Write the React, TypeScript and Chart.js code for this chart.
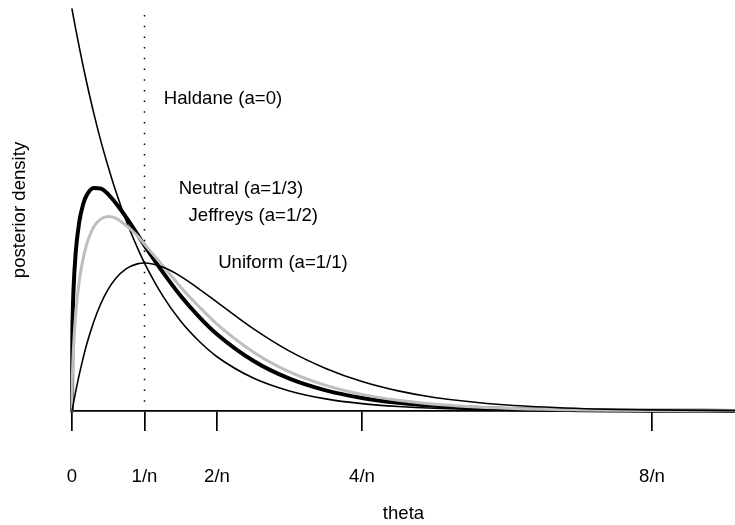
import React, { useEffect, useRef } from "react";
import { Chart, registerables } from "chart.js";

Chart.register(...registerables);

// theta values in units of 1/n
const thetaValues = [0, 0.005, 0.01, 0.02, 0.05, 0.1, 0.15, 0.2, 0.3, 0.4, 0.5, 0.6, 0.75, 0.9, 1, 1.25, 1.5, 1.75, 2, 2.5, 3, 3.5, 4, 4.5, 5, 6, 7, 8, 9.14];

const haldane = [1, 0.995, 0.99, 0.98, 0.951, 0.905, 0.861, 0.819, 0.741, 0.67, 0.607, 0.549, 0.472, 0.407, 0.368, 0.287, 0.223, 0.174, 0.135, 0.082, 0.0498, 0.0302, 0.0183, 0.0111, 0.0067, 0.0025, 0.0009, 0.0003, 0.0001];
const neutral = [0, 0.19, 0.239, 0.298, 0.392, 0.47, 0.512, 0.536, 0.555, 0.553, 0.539, 0.518, 0.481, 0.44, 0.412, 0.346, 0.286, 0.235, 0.191, 0.125, 0.0804, 0.0513, 0.0325, 0.0205, 0.0129, 0.005, 0.002, 0.0008, 0.00025];
const jeffreys = [0, 0.079, 0.112, 0.156, 0.24, 0.323, 0.376, 0.413, 0.458, 0.478, 0.484, 0.48, 0.461, 0.436, 0.415, 0.362, 0.308, 0.26, 0.216, 0.147, 0.0973, 0.0638, 0.0413, 0.0266, 0.017, 0.0069, 0.0027, 0.0011, 0.00036];
const uniform = [0, 0.005, 0.0099, 0.0196, 0.0476, 0.0905, 0.129, 0.164, 0.222, 0.268, 0.303, 0.329, 0.354, 0.366, 0.368, 0.358, 0.335, 0.304, 0.271, 0.205, 0.149, 0.106, 0.0733, 0.05, 0.0337, 0.0149, 0.0064, 0.0027, 0.001];

const tickValues = [0, 1, 2, 4, 8];
const tickLabels = ["0", "1/n", "2/n", "4/n", "8/n"];
const curveLabels = ["Haldane (a=0)", "Neutral (a=1/3)", "Jeffreys (a=1/2)", "Uniform (a=1/1)"];
const xTitle = "theta";
const yTitle = "posterior density";

const FONT_FAMILY = "'Liberation Sans', Arial, Helvetica, sans-serif";
const FONT_SIZE = 18.6;

export default function App() {
  const canvasRef = useRef<HTMLCanvasElement | null>(null);

  useEffect(() => {
    const canvas = canvasRef.current;
    if (!canvas) return;

    const toPoints = (arr: number[]) => thetaValues.map((x, i) => ({ x, y: arr[i] }));

    const labelPositions = [
      { x: 2.083, y: 0.776 },
      { x: 2.33, y: 0.552 },
      { x: 2.5, y: 0.485 },
      { x: 2.91, y: 0.368 },
    ];

    const decor = {
      id: "decor",
      beforeDatasetsDraw(chart: any) {
        const { ctx, scales } = chart;
        const px = scales.x.getPixelForValue(1);
        ctx.save();
        ctx.strokeStyle = "#000";
        ctx.lineWidth = 1.5;
        ctx.setLineDash([1.5, 9.2]);
        ctx.beginPath();
        ctx.moveTo(px, 15);
        ctx.lineTo(px, scales.y.getPixelForValue(0) - 6);
        ctx.stroke();
        ctx.restore();
      },
      afterDraw(chart: any) {
        const { ctx, scales } = chart;
        ctx.save();
        ctx.fillStyle = "#000";
        ctx.font = `${FONT_SIZE}px ${FONT_FAMILY}`;
        ctx.textAlign = "center";
        ctx.textBaseline = "middle";
        curveLabels.forEach((t, i) => {
          const p = labelPositions[i];
          ctx.fillText(t, scales.x.getPixelForValue(p.x), scales.y.getPixelForValue(p.y));
        });
        ctx.translate(20, 210);
        ctx.rotate(-Math.PI / 2);
        ctx.fillText(yTitle, 0, 0);
        ctx.restore();
      },
    };

    const chart = new Chart(canvas, {
      type: "line",
      data: {
        datasets: [
          {
            label: curveLabels[0],
            data: toPoints(haldane),
            borderColor: "#000",
            borderWidth: 1.6,
          },
          {
            label: curveLabels[1],
            data: toPoints(neutral),
            borderColor: "#000",
            borderWidth: 4,
          },
          {
            label: curveLabels[2],
            data: toPoints(jeffreys),
            borderColor: "#bebebe",
            borderWidth: 3,
          },
          {
            label: curveLabels[3],
            data: toPoints(uniform),
            borderColor: "#000",
            borderWidth: 1.6,
          },
        ].map((d, i) => ({
          ...d,
          pointRadius: 0,
          fill: false,
          cubicInterpolationMode: "monotone" as const,
          borderCapStyle: "round" as const,
          borderJoinStyle: "round" as const,
          clip: false as any,
          order: 3 - i,
        })),
      },
      options: {
        animation: false,
        responsive: false,
        maintainAspectRatio: false,
        devicePixelRatio: 1,
        layout: { padding: { left: 72, right: 0, top: 0, bottom: 0 } },
        plugins: {
          legend: { display: false },
          tooltip: { enabled: false },
        },
        events: [],
        scales: {
          x: {
            type: "linear",
            min: 0,
            max: 9.145,
            afterBuildTicks: (s: any) => {
              s.ticks = tickValues.map((v) => ({ value: v }));
            },
            afterFit: (s: any) => {
              s.height = 114;
            },
            ticks: {
              autoSkip: false,
              maxRotation: 0,
              minRotation: 0,
              padding: 35,
              color: "#000",
              font: { family: FONT_FAMILY, size: FONT_SIZE },
              callback: (v: any) => {
                const idx = tickValues.indexOf(Number(v));
                return idx >= 0 ? tickLabels[idx] : "";
              },
            },
            grid: {
              drawOnChartArea: false,
              drawTicks: true,
              tickLength: 20,
              color: "#000",
              lineWidth: 1.7,
            },
            border: { display: true, color: "#000", width: 1.7 },
            title: {
              display: true,
              text: xTitle,
              color: "#000",
              font: { family: FONT_FAMILY, size: FONT_SIZE },
              padding: { top: 0, bottom: 0 },
            },
          },
          y: {
            type: "linear",
            min: 0,
            max: 411 / 402,
            display: false,
          },
        },
      },
      plugins: [decor],
    } as any);

    return () => chart.destroy();
  }, []);

  return (
    <div style={{ position: "absolute", left: 0, top: 0, width: 735, height: 525, background: "#fff" }}>
      <canvas ref={canvasRef} width={735} height={525} style={{ width: 735, height: 525 }} />
    </div>
  );
}
